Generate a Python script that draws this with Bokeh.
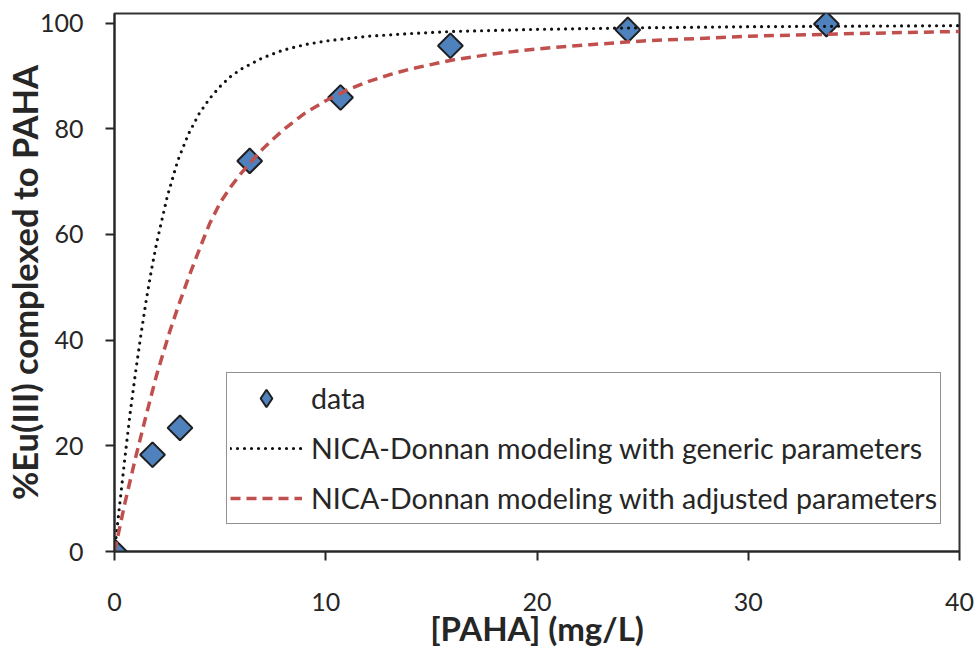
from bokeh.plotting import figure
from bokeh.models import Legend, LegendItem, FixedTicker
from bokeh.embed import file_html
from bokeh.resources import INLINE
import math

# ---- data ----
data_x = [0.0, 1.8, 3.1, 6.4, 10.7, 15.9, 24.3, 33.7]
data_y = [0.0, 18.3, 23.4, 73.9, 85.9, 95.7, 98.7, 99.8]

generic_x = [0, 0.25, 0.5, 0.75, 1.0, 1.25, 1.5, 1.75, 2.0, 2.5, 3.0, 3.5, 4.0, 4.5,
             5.0, 5.5, 6.0, 7.0, 8.0, 9.0, 10, 12, 14, 16, 20, 25, 30, 35, 40]
generic_y = [0, 9, 18, 26.5, 34, 41, 47.5, 53.3, 58.5, 67.2, 74.0, 79.0, 82.8, 85.7,
             88.0, 89.9, 91.3, 93.4, 94.9, 95.9, 96.6, 97.5, 98.0, 98.4, 98.8, 99.1,
             99.3, 99.4, 99.5]

adjusted_x = [0, 0.25, 0.5, 1.0, 1.5, 2.0, 2.63, 3.0, 3.5, 4.0, 4.5, 5.0, 5.5, 6.0,
              6.5, 7.0, 7.5, 8.0, 8.6, 9.0, 10, 11, 12, 13, 14, 16, 18, 20, 22.5, 25,
              30, 35, 40]
adjusted_y = [0, 4.6, 9.3, 17.8, 25.8, 33.5, 41.8, 46.2, 51.8, 57.0, 62.0, 66.0, 69.0,
              71.6, 73.9, 76.1, 78.0, 79.8, 81.7, 82.9, 85.3, 87.3, 88.9, 90.2, 91.3,
              93.0, 94.2, 95.1, 95.9, 96.6, 97.5, 98.0, 98.4]

x_ticks = [0, 10, 20, 30, 40]
y_ticks = [0, 20, 40, 60, 80, 100]

labels = ["data",
          "NICA-Donnan modeling with generic parameters",
          "NICA-Donnan modeling with adjusted parameters"]

FONT = "Lato"
TXT = "#262626"
BLUE = "#4F81BD"
EDGE = "#1F1F1F"

p = figure(width=978, height=650, output_backend="svg", toolbar_location=None,
           x_range=(0, 40), y_range=(0, 101.8),
           min_border_left=114, min_border_right=19, min_border_top=13, min_border_bottom=99)
p.xgrid.visible = False
p.ygrid.visible = False
p.outline_line_color = "#333333"
p.outline_line_width = 2
p.background_fill_color = "white"
p.border_fill_color = "white"

# narrow diamond underneath (covered by the rotated square); it provides the legend swatch
dm = p.scatter(data_x, data_y, marker="diamond", size=24,
               fill_color=BLUE, line_color=EDGE, line_width=2)
sc = p.scatter(data_x, data_y, marker="square", angle=math.pi / 4, size=17.5,
               fill_color=BLUE, line_color=EDGE, line_width=2)
l1 = p.line(generic_x, generic_y, line_color="#111111", line_width=3.2,
            line_dash="0 7", line_cap="round")
l2 = p.line(adjusted_x, adjusted_y, line_color="#C0504D", line_width=3.5,
            line_dash="10 6")

for ax in (p.xaxis[0], p.yaxis[0]):
    ax.axis_line_color = TXT
    ax.axis_line_width = 2
    ax.major_tick_line_color = TXT
    ax.major_tick_line_width = 2
    ax.major_tick_out = 9
    ax.major_tick_in = 0
    ax.minor_tick_line_color = None
    ax.major_label_text_font = FONT
    ax.major_label_text_font_size = "25px"
    ax.major_label_text_color = TXT
    ax.axis_label_text_font = FONT
    ax.axis_label_text_font_style = "bold"
    ax.axis_label_text_color = TXT

p.xaxis.axis_label_text_font_size = "33px"
p.yaxis.axis_label_text_font_size = "34.5px"
p.xaxis.ticker = FixedTicker(ticks=x_ticks)
p.yaxis.ticker = FixedTicker(ticks=y_ticks)
p.xaxis.axis_label = "[PAHA] (mg/L)"
p.yaxis.axis_label = "%Eu(III) complexed to PAHA"
p.xaxis.major_label_standoff = 32
p.xaxis.axis_label_standoff = -6
p.yaxis.major_label_standoff = 22
p.yaxis.axis_label_standoff = -8

legend = Legend(items=[LegendItem(label=labels[0], renderers=[dm]),
                       LegendItem(label=labels[1], renderers=[l1]),
                       LegendItem(label=labels[2], renderers=[l2])],
                location=(112, 27))
legend.label_text_font = FONT
legend.label_text_font_size = "28.6px"
legend.label_text_color = TXT
legend.border_line_color = TXT
legend.border_line_width = 1.2
legend.background_fill_alpha = 1
legend.padding = 3
legend.margin = 0
legend.spacing = 6
legend.label_height = 44
legend.glyph_height = 44
legend.glyph_width = 72
legend.label_standoff = 9
p.add_layout(legend)

open("out.html", "w").write(file_html(p, INLINE))
